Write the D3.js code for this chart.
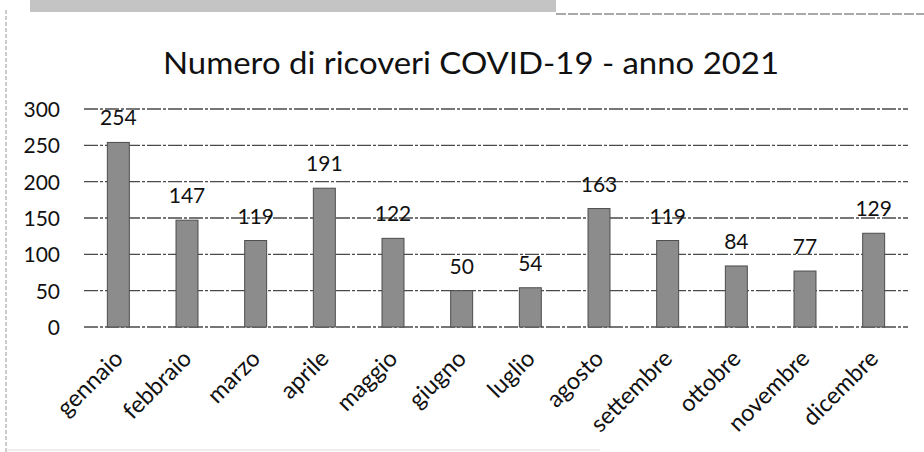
<!DOCTYPE html>
<html>
<head>
<meta charset="utf-8">
<script src="https://cdn.jsdelivr.net/npm/d3@7/dist/d3.min.js"></script>
<style>
  html, body { margin: 0; padding: 0; background: #fff; }
  svg { display: block; }
  text { font-family: Lato, "Open Sans", sans-serif; fill: #111; }
</style>
</head>
<body>
<svg id="chart" width="924" height="452"></svg>
<script>
const title = "Numero di ricoveri COVID-19 - anno 2021";
const months = ["gennaio", "febbraio", "marzo", "aprile", "maggio", "giugno",
                "luglio", "agosto", "settembre", "ottobre", "novembre", "dicembre"];
const admissions = [254, 147, 119, 191, 122, 50, 54, 163, 119, 84, 77, 129];
const yTicks = [0, 50, 100, 150, 200, 250, 300];

const svg = d3.select("#chart");
const W = 924, H = 452;
const margin = { left: 84, right: 16, top: 109, bottom: 125 };
const FONT = "Lato, 'Open Sans', sans-serif";

const x = d3.scaleBand()
  .domain(months)
  .range([margin.left, W - margin.right])
  .paddingInner(0.68)
  .paddingOuter(0.34);

const y = d3.scaleLinear()
  .domain([0, 300])
  .range([H - margin.bottom, margin.top]);

// frame pieces around the chart area
svg.append("rect")
  .attr("x", 30).attr("y", 0).attr("width", 526).attr("height", 12)
  .attr("fill", "#c4c4c4");
svg.append("line")
  .attr("x1", 556).attr("x2", 924).attr("y1", 14).attr("y2", 14)
  .attr("stroke", "#555").attr("stroke-width", 1.2)
  .attr("stroke-dasharray", "10,2");
svg.append("line")
  .attr("x1", 6).attr("x2", 6).attr("y1", 10).attr("y2", 452)
  .attr("stroke", "#999").attr("stroke-width", 1)
  .attr("stroke-dasharray", "4,2");
svg.append("line")
  .attr("x1", 6).attr("x2", 600).attr("y1", 450).attr("y2", 450)
  .attr("stroke", "#ddd").attr("stroke-width", 1);

// title
svg.append("text")
  .attr("x", 471).attr("y", 74)
  .attr("text-anchor", "middle")
  .attr("font-size", 31)
  .attr("textLength", 616)
  .attr("lengthAdjust", "spacingAndGlyphs")
  .text(title);

// gridlines
svg.append("g")
  .selectAll("line")
  .data(yTicks)
  .join("line")
  .attr("x1", margin.left)
  .attr("x2", W - margin.right)
  .attr("y1", d => y(d))
  .attr("y2", d => y(d))
  .attr("stroke", "#4a4a4a")
  .attr("stroke-width", 1.3)
  .attr("stroke-dasharray", "14,2,3,2");

// y axis labels
const yAxis = d3.axisLeft(y).tickValues(yTicks).tickSize(0).tickPadding(0);
svg.append("g")
  .attr("transform", "translate(60,0)")
  .call(yAxis)
  .call(g => g.select(".domain").remove())
  .call(g => g.selectAll("text")
    .attr("font-size", 21)
    .attr("dy", "0.36em")
    .style("font-family", FONT)
    .attr("fill", "#111"));

// bars
svg.append("g")
  .selectAll("rect")
  .data(admissions)
  .join("rect")
  .attr("x", (d, i) => x(months[i]))
  .attr("y", d => y(d))
  .attr("width", x.bandwidth())
  .attr("height", d => y(0) - y(d))
  .attr("fill", "#8c8c8c")
  .attr("stroke", "#4d4d4d")
  .attr("stroke-width", 1);

// value labels
svg.append("g")
  .selectAll("text")
  .data(admissions)
  .join("text")
  .attr("x", (d, i) => x(months[i]) + x.bandwidth() / 2)
  .attr("y", d => y(d) - 17)
  .attr("text-anchor", "middle")
  .attr("font-size", 21)
  .text(d => d);

// month labels
const xAxis = d3.axisBottom(x).tickSize(0).tickPadding(0);
svg.append("g")
  .attr("transform", `translate(0,${y(0)})`)
  .call(xAxis)
  .call(g => g.select(".domain").remove())
  .call(g => g.selectAll("text")
    .attr("font-size", 23.5)
    .attr("text-anchor", "end")
    .attr("dy", null)
    .attr("y", 0)
    .attr("transform", "translate(6,33) rotate(-45)")
    .style("font-family", FONT)
    .attr("fill", "#111"));
</script>
</body>
</html>
